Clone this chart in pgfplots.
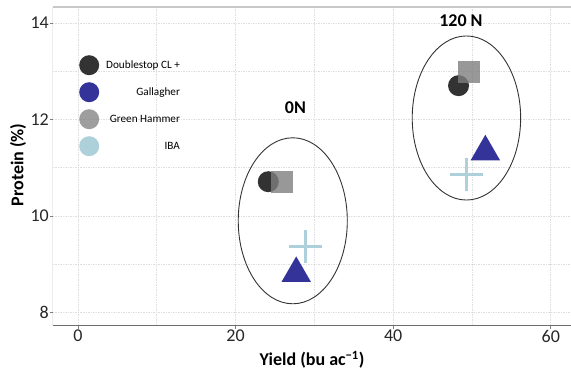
\documentclass[border=0pt]{standalone}
\usepackage{pgfplots}
\pgfplotsset{compat=1.18}
\usepackage{fontspec}
\setmainfont{Carlito}
\definecolor{cds}{RGB}{51,51,51}
\definecolor{cga}{RGB}{51,51,153}
\definecolor{cgh}{RGB}{126,126,126}
\definecolor{ciba}{RGB}{173,208,218}
\definecolor{gridc}{RGB}{222,222,222}
\definecolor{topc}{RGB}{200,200,200}
\definecolor{spinec}{RGB}{110,110,110}
\begin{document}
\begin{tikzpicture}
\useasboundingbox (-53pt,-43pt) rectangle (518pt,326pt);
\begin{axis}[
  at={(0pt,0pt)}, anchor=south west,
  scale only axis, width=518pt, height=319pt,
  xmin=-3.17, xmax=62.57, ymin=7.72, ymax=14.33,
  xtick={0,20,40,60}, minor xtick={10,30,50},
  ytick={8,10,12,14}, minor ytick={9,11,13},
  grid=both,
  major grid style={gridc, dash pattern=on 1.5pt off 1pt, line width=0.6pt},
  minor grid style={gridc, dash pattern=on 1.5pt off 1pt, line width=0.6pt},
  minor tick length=0pt, major tick length=3pt,
  tick align=outside, tick pos=left,
  tick style={draw=gray, line width=0.8pt},
  axis line style={draw=none},
  /pgf/number format/assume math mode=true,
  ticklabel style={font=\fontsize{18}{20}\selectfont, text=black!85},
  xticklabel style={inner sep=1pt},
  yticklabel style={inner sep=1pt},
  xlabel={Yield (bu ac\textsuperscript{−1})},
  ylabel={Protein (\%)},
  every axis x label/.style={at={(axis description cs:0.5,0)}, yshift=-34pt, anchor=center,
    font=\bfseries\fontsize{18}{20}\selectfont},
  every axis y label/.style={at={(axis description cs:0,0.505)}, xshift=-35pt, rotate=90, anchor=center,
    font=\bfseries\fontsize{18}{20}\selectfont},
  legend style={at={(rel axis cs:0.0502,0.8495)}, anchor=north west, draw=none, fill=none,
    font=\fontsize{11.2}{13}\selectfont, row sep=7pt, inner sep=0pt,
    /tikz/every odd column/.append style={column sep=5pt}},
  legend cell align=right,
  legend image code/.code={\fill[#1] (0pt,0pt) circle (10pt);},
]
\addlegendimage{fill=cds, draw=none}
\addlegendimage{fill=cga, draw=none}
\addlegendimage{fill=cgh, fill opacity=0.75, draw=none}
\addlegendimage{fill=ciba, draw=none}
\legend{Doublestop CL +, Gallagher, Green Hammer, IBA}

\addplot[forget plot, only marks, mark=+, mark size=16.5pt, color=ciba, mark options={line width=3pt}]
  coordinates {(28.9,9.36) (49.3,10.86)};
\addplot[forget plot, only marks, mark=*, mark size=10.5pt, color=cds, mark options={fill=cds, draw opacity=0}]
  coordinates {(24.15,10.71) (48.3,12.70)};
\addplot[forget plot, only marks, mark=square*, mark size=11pt, color=cgh, mark options={fill=cgh, fill opacity=0.8, draw opacity=0}]
  coordinates {(25.85,10.71) (49.6,12.98)};
\addplot[forget plot, only marks, mark=triangle*, mark size=17pt, color=cga, mark options={fill=cga, draw opacity=0}]
  coordinates {(27.7,8.81) (51.7,11.33)};

\draw[cds, line width=0.9pt] (axis cs:27.26,9.90) ellipse [x radius=6.92, y radius=1.72];
\draw[cds, line width=0.9pt] (axis cs:49.3,12.03) ellipse [x radius=6.88, y radius=1.70];

\node[font=\bfseries\fontsize{18}{20}\selectfont, inner sep=0pt] at (axis cs:27.6,12.24) {0N};
\node[font=\bfseries\fontsize{18}{20}\selectfont, inner sep=0pt] at (axis cs:48.6,14.04) {120 N};

\draw[topc, line width=1.2pt] (rel axis cs:0,1) -- (rel axis cs:1,1);
\draw[spinec, line width=1pt] (rel axis cs:0,1) -- (rel axis cs:0,0) -- (rel axis cs:1,0);
\end{axis}
\end{tikzpicture}
\end{document}
